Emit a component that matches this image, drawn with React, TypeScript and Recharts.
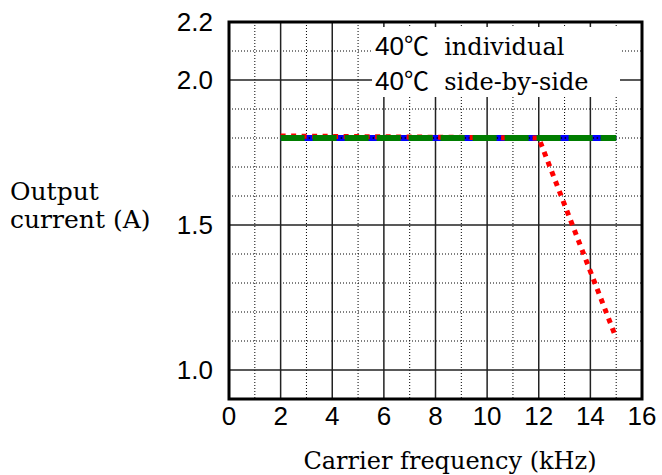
import React from 'react';
import { LineChart, Line, XAxis, YAxis, CartesianGrid, ReferenceArea, Legend } from 'recharts';

// Carrier frequency (kHz) sample points
const frequencies = [2, 12, 15];
// Output current (A)
const individualBlue = [1.8, 1.8, 1.8];
const individualDots = [1.8, 1.8, 1.8];
const sideBySideRed = [1.807, 1.8, 1.11];
const greenSeries = [1.8, 1.8, 1.8];

const xTicks = [0, 2, 4, 6, 8, 10, 12, 14, 16];
const yTicks = [1.0, 1.5, 2.0, 2.2];
const majorX = [2, 4, 6, 8, 10, 12, 14];
const minorX = [1, 3, 5, 7, 9, 11, 13, 15];
const majorY = [1.0, 1.5, 2.0];
const minorY = [1.1, 1.2, 1.3, 1.4, 1.6, 1.7, 1.8, 1.9, 2.1];
const legendTemp = '40';
const legendLabels = ['individual', 'side-by-side'];

const data = frequencies.map((f, i) => ({
  f,
  blue: individualBlue[i],
  dots: individualDots[i],
  red: sideBySideRed[i],
  green: greenSeries[i],
}));

const SANS = '"Liberation Sans", Arial, sans-serif';
const SERIF = '"DejaVu Serif", serif';

const LegendBox = () => (
  <div style={{ paddingLeft: 3, color: '#000', whiteSpace: 'pre' }}>
    {legendLabels.map((l) => (
      <div key={l} style={{ lineHeight: '35px', height: 35 }}>
        <span style={{ fontFamily: SANS, fontSize: 26 }}>{legendTemp}</span>
        <span style={{ fontFamily: '"Noto Sans CJK JP"', fontSize: 25 }}>℃</span>
        <span style={{ fontFamily: SERIF, fontSize: 24 }}>{'  ' + l}</span>
      </div>
    ))}
  </div>
);

export default function App() {
  return (
    <div style={{ position: 'absolute', left: 0, top: 0, width: 662, height: 475, background: '#fff' }}>
      <LineChart
        width={662}
        height={475}
        data={data}
        margin={{ top: 22, right: 20, bottom: 36, left: 0 }}
      >
        <CartesianGrid
          horizontalValues={minorY}
          verticalValues={minorX}
          stroke="#000"
          strokeWidth={1}
          strokeDasharray="1 2"
        />
        <CartesianGrid
          horizontalValues={majorY}
          verticalValues={majorX}
          stroke="#222"
          strokeWidth={1.5}
        />
        <XAxis
          type="number"
          dataKey="f"
          domain={[0, 16]}
          ticks={xTicks}
          interval={0}
          tickLine={false}
          axisLine={false}
          tickSize={0}
          tickMargin={8}
          height={40}
          tick={{ fontFamily: SANS, fontSize: 26, fill: '#000' }}
          allowDataOverflow
        />
        <YAxis
          type="number"
          domain={[0.9, 2.2]}
          ticks={yTicks}
          interval={0}
          tickFormatter={(v: number) => v.toFixed(1)}
          tickLine={false}
          axisLine={false}
          tickSize={0}
          tickMargin={16}
          width={229}
          tick={{ fontFamily: SANS, fontSize: 26, fill: '#000' }}
          allowDataOverflow
        />
        <Line dataKey="blue" stroke="#0000ff" strokeWidth={6} dot={false} activeDot={false} isAnimationActive={false} legendType="none" />
        <Line dataKey="dots" stroke="#000" strokeWidth={1.5} strokeDasharray="1.5 2.5" dot={false} activeDot={false} isAnimationActive={false} legendType="none" />
        <Line dataKey="red" stroke="#ff0000" strokeWidth={5} strokeDasharray="5 5.5" dot={false} activeDot={false} isAnimationActive={false} legendType="none" />
        <Line dataKey="green" stroke="#007d00" strokeWidth={6} strokeDasharray="24 8" dot={false} activeDot={false} isAnimationActive={false} legendType="none" />
        <ReferenceArea x1={0} x2={16} y1={0.9} y2={2.2} fill="none" stroke="#000" strokeWidth={3} ifOverflow="visible" />
        <Legend
          layout="vertical"
          align="center"
          verticalAlign="middle"
          wrapperStyle={{ position: 'absolute', left: 372, top: 27, width: 248, height: 70, background: '#fff', margin: 0 }}
          content={() => <LegendBox />}
        />
        <text x={10} y={200} fontFamily={SERIF} fontSize={25} fill="#000">Output</text>
        <text x={10} y={228} fontFamily={SERIF} fontSize={25} fill="#000">current (A)</text>
        <text x={450} y={469} textAnchor="middle" fontFamily={SERIF} fontSize={24} fill="#000">Carrier frequency (kHz)</text>
      </LineChart>
    </div>
  );
}
